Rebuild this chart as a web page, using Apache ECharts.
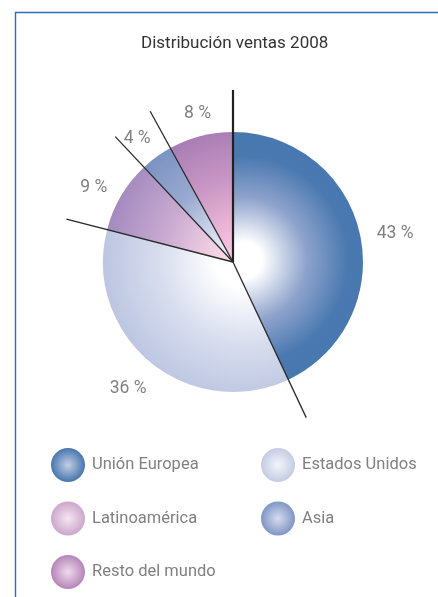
<!DOCTYPE html>
<html>
<head>
<meta charset="utf-8">
<script src="https://cdn.jsdelivr.net/npm/echarts@6/dist/echarts.min.js"></script>
<style>
html,body{margin:0;padding:0;background:#fff;}
#main{width:438px;height:597px;}
</style>
</head>
<body>
<div id="main"></div>
<script>
const titleText = 'Distribución ventas 2008';
const categories = ['Unión Europea', 'Estados Unidos', 'Latinoamérica', 'Asia', 'Resto del mundo'];
const shares = [43, 36, 9, 4, 8];
const legendCol1 = ['Unión Europea', 'Latinoamérica', 'Resto del mundo'];
const legendCol2 = ['Estados Unidos', 'Asia'];
// small label nudges (pixels) relative to the default mid-angle position
const labelNudge = [[3, 7], [-1, 1], [1, 9], [0, 8], [5, 10]];

const FONT = "Roboto, 'Liberation Sans', sans-serif";
const CX = 233, CY = 262, R = 130;

const sliceStops = {
  'Unión Europea':   [[0,'#ffffff'],[0.13,'#ffffff'],[0.45,'#8fa3cc'],[0.75,'#4a79b0'],[1,'#4577ae']],
  'Estados Unidos':  [[0,'#ffffff'],[0.2,'#ffffff'],[0.6,'#d9deee'],[1,'#bec7e2']],
  'Latinoamérica':   [[0,'#fce6f0'],[0.2,'#f6d4e6'],[0.6,'#c8aad0'],[1,'#a58cc0']],
  'Asia':            [[0,'#f8f8fc'],[0.2,'#e4e8f4'],[0.6,'#9aaad0'],[1,'#7a92c1']],
  'Resto del mundo': [[0,'#fad0e6'],[0.2,'#f2bcda'],[0.6,'#c896c4'],[1,'#a57bb3']]
};
const legendStops = {
  'Unión Europea':   ['#c4cee4','#4676ae'],
  'Estados Unidos':  ['#f4f5fa','#c4cce4'],
  'Latinoamérica':   ['#f4e6f0','#cca6cc'],
  'Asia':            ['#d6dcee','#7e96c4'],
  'Resto del mundo': ['#eedcec','#b585b8']
};

function sliceGrad(name){
  return {type:'radial', x:CX+11, y:CY-2, r:R+8, global:true,
    colorStops: sliceStops[name].map(s=>({offset:s[0], color:s[1]}))};
}
function legendGrad(name){
  const c = legendStops[name];
  return {type:'radial', x:0.5, y:0.5, r:0.5,
    colorStops:[{offset:0,color:c[0]},{offset:1,color:c[1]}]};
}

const boundaries = [];
let acc = 0;
for (let i = 0; i < shares.length; i++) { boundaries.push(acc); acc += shares[i]; }

const chart = echarts.init(document.getElementById('main'));
const legendBase = {
  orient:'vertical', icon:'circle', itemWidth:34, itemHeight:34, itemGap:19.5,
  padding:0, height:200, selectedMode:false,
  textStyle:{fontFamily:FONT, fontSize:16.5, color:'#808080', padding:[0,0,0,2]}
};
chart.setOption({
  animation:false,
  backgroundColor:'#ffffff',
  title:{text:titleText, left:136, top:30,
    textStyle:{fontFamily:FONT, fontSize:17, fontWeight:'normal', color:'#333333'}},
  graphic:[{type:'polyline', silent:true,
    shape:{points:[[15.5,597],[15.5,12.5],[438,12.5]]},
    style:{stroke:'#2f6cb6', lineWidth:1.4, fill:null}}],
  legend:[
    Object.assign({}, legendBase, {left:51, top:448,
      data: legendCol1.map(n=>({name:n, itemStyle:{color:legendGrad(n), borderWidth:0}}))}),
    Object.assign({}, legendBase, {left:261, top:448,
      data: legendCol2.map(n=>({name:n, itemStyle:{color:legendGrad(n), borderWidth:0}}))})
  ],
  polar:{center:[CX,CY], radius:172},
  radiusAxis:{type:'value', min:0, max:1, show:false},
  angleAxis:{type:'value', min:0, max:100, startAngle:90, clockwise:true, show:false},
  series:[
    {
      type:'pie', center:[CX,CY], radius:[0,R], startAngle:90, clockwise:true,
      silent:true, label:{show:false}, labelLine:{show:false},
      emphasis:{disabled:true}, z:1,
      data: categories.map((n,i)=>({name:n, value:shares[i], itemStyle:{color:sliceGrad(n)}}))
    },
    {
      type:'pie', center:[CX,CY], radius:[154,166], startAngle:90, clockwise:true,
      silent:true, emphasis:{disabled:true}, labelLine:{show:false}, z:1,
      itemStyle:{color:'rgba(0,0,0,0)'},
      label:{show:true, position:'inside', formatter:'{c} %',
        fontFamily:FONT, fontSize:17.5, color:'#808080'},
      data: categories.map((n,i)=>({name:n, value:shares[i], label:{offset:labelNudge[i]}}))
    },
    {
      type:'custom', coordinateSystem:'polar', silent:true, z:10,
      data: boundaries.map(b=>[1,b]),
      renderItem:function(params, api){
        const v = api.value(1);
        const p0 = api.coord([0, v]);
        const p1 = api.coord([1, v]);
        return {type:'line', z2:100, shape:{x1:p0[0], y1:p0[1], x2:p1[0], y2:p1[1]},
          style:{stroke: v===0 ? '#231f20' : '#2a2a2a', lineWidth: v===0 ? 2.2 : 1.3}};
      }
    }
  ]
});
</script>
</body>
</html>
